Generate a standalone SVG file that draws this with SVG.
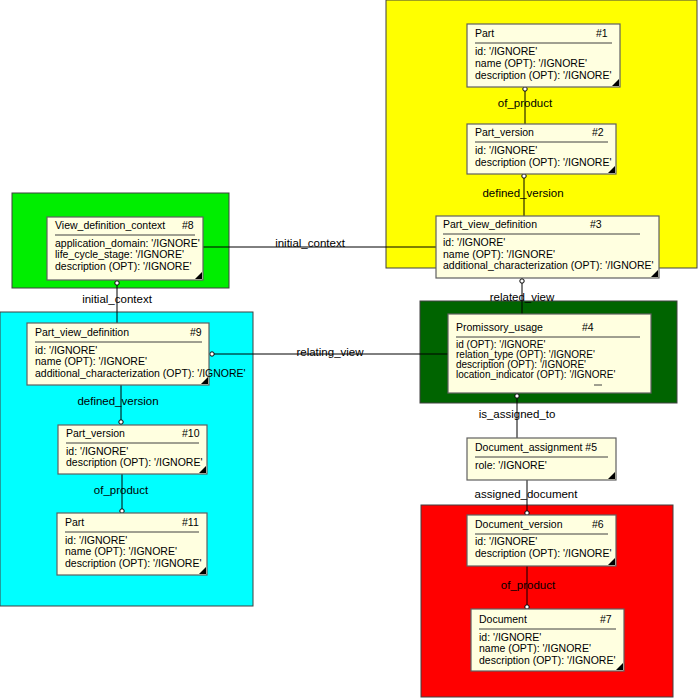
<svg xmlns="http://www.w3.org/2000/svg" width="698" height="698" viewBox="0 0 698 698">
<style>
text{font-family:"Liberation Sans",Arial,sans-serif;font-size:10.5px;fill:#000}
.n{fill:#ffffe0;stroke:#606060;stroke-width:1.2}
.r{stroke:#404040;stroke-width:1}
.l{stroke:#000;stroke-width:1;fill:none}
.hr{stroke:#404040;stroke-width:1}
.c{fill:#fff;stroke:#000;stroke-width:1}
.lbl{font-size:11.5px}
.s{font-size:10px}
</style>
<rect x="386" y="0" width="311" height="268" fill="#ffff00" class="r"/>
<rect x="12" y="193" width="217" height="95" fill="#00ee00" class="r"/>
<rect x="0" y="312" width="253" height="294" fill="#00ffff" class="r"/>
<rect x="420" y="301" width="257" height="102" fill="#006400" class="r"/>
<rect x="421" y="505" width="252" height="192" fill="#ff0000" class="r"/>
<g id="connectors">
<line class="l" x1="525" y1="87" x2="525" y2="124"/>
<line class="l" x1="524" y1="174" x2="524" y2="216"/>
<line class="l" x1="203" y1="247" x2="436" y2="247"/>
<line class="l" x1="522" y1="278" x2="522" y2="314"/>
<line class="l" x1="117" y1="280" x2="117" y2="323"/>
<line class="l" x1="212" y1="354" x2="448" y2="354"/>
<line class="l" x1="121" y1="385" x2="121" y2="425"/>
<line class="l" x1="122" y1="474" x2="122" y2="513"/>
<line class="l" x1="517" y1="393" x2="517" y2="438"/>
<line class="l" x1="527" y1="480" x2="527" y2="515"/>
<line class="l" x1="527" y1="566" x2="527" y2="609"/>
<circle class="c" cx="525" cy="89" r="2.2"/>
<circle class="c" cx="524" cy="176" r="2.2"/>
<circle class="c" cx="522" cy="281" r="2.2"/>
<circle class="c" cx="117" cy="283" r="2.2"/>
<circle class="c" cx="212" cy="354" r="2.2"/>
<circle class="c" cx="121" cy="422" r="2.2"/>
<circle class="c" cx="122" cy="511" r="2.2"/>
<circle class="c" cx="517" cy="396" r="2.2"/>
<circle class="c" cx="527" cy="513" r="2.2"/>
<circle class="c" cx="527" cy="607" r="2.2"/>
<text class="lbl" x="525" y="107" text-anchor="middle">of_product</text>
<text class="lbl" x="523" y="197" text-anchor="middle">defined_version</text>
<text class="lbl" x="310" y="247" text-anchor="middle">initial_context</text>
<text class="lbl" x="522" y="301" text-anchor="middle">related_view</text>
<text class="lbl" x="117" y="303" text-anchor="middle">initial_context</text>
<text class="lbl" x="330" y="356" text-anchor="middle">relating_view</text>
<text class="lbl" x="118" y="405" text-anchor="middle">defined_version</text>
<text class="lbl" x="121" y="494" text-anchor="middle">of_product</text>
<text class="lbl" x="517" y="418" text-anchor="middle">is_assigned_to</text>
<text class="lbl" x="526" y="498" text-anchor="middle">assigned_document</text>
<text class="lbl" x="528" y="589" text-anchor="middle">of_product</text>
</g>
<defs><path id="tri" d="M0 0 L-7 0 L0 -7 Z" fill="#000"/></defs>
<g id="n1"><rect class="n" x="467" y="24" width="153" height="63"/><text x="475" y="37">Part</text><text x="596" y="37">#1</text><line class="hr" x1="475" y1="43" x2="612" y2="43"/><text x="475" y="55">id: '/IGNORE'</text><text x="475" y="67">name (OPT): '/IGNORE'</text><text x="475" y="79">description (OPT): '/IGNORE'</text><use href="#tri" x="619" y="86"/></g>
<g id="n2"><rect class="n" x="467" y="124" width="149" height="50"/><text x="475" y="136">Part_version</text><text x="592" y="136">#2</text><line class="hr" x1="475" y1="142" x2="608" y2="142"/><text x="475" y="154">id: '/IGNORE'</text><text x="475" y="166">description (OPT): '/IGNORE'</text><use href="#tri" x="615" y="173"/></g>
<g id="n3"><rect class="n" x="436" y="216" width="223" height="62"/><text x="443" y="228">Part_view_definition</text><text x="590" y="228">#3</text><line class="hr" x1="443" y1="234" x2="640" y2="234"/><text x="443" y="246">id: '/IGNORE'</text><text x="443" y="258">name (OPT): '/IGNORE'</text><text x="443" y="269">additional_characterization (OPT): '/IGNORE'</text><use href="#tri" x="658" y="277"/></g>
<g id="n8"><rect class="n" x="47" y="217" width="156" height="63"/><text x="55" y="229">View_definition_context</text><text x="182" y="229">#8</text><line class="hr" x1="55" y1="235" x2="195" y2="235"/><text x="55" y="247">application_domain: '/IGNORE'</text><text x="55" y="258">life_cycle_stage: '/IGNORE'</text><text x="55" y="270">description (OPT): '/IGNORE'</text><use href="#tri" x="202" y="279"/></g>
<g id="n9"><rect class="n" x="27" y="323" width="182" height="62"/><text x="35" y="336">Part_view_definition</text><text x="190" y="336">#9</text><line class="hr" x1="35" y1="342" x2="202" y2="342"/><text x="35" y="354">id: '/IGNORE'</text><text x="35" y="365">name (OPT): '/IGNORE'</text><text x="35" y="377">additional_characterization (OPT): '/IGNORE'</text><use href="#tri" x="208" y="384"/></g>
<g id="n10"><rect class="n" x="58" y="425" width="149" height="49"/><text x="66" y="437">Part_version</text><text x="182" y="437">#10</text><line class="hr" x1="66" y1="443" x2="199" y2="443"/><text x="66" y="455">id: '/IGNORE'</text><text x="66" y="466">description (OPT): '/IGNORE'</text><use href="#tri" x="206" y="473"/></g>
<g id="n11"><rect class="n" x="57" y="513" width="150" height="62"/><text x="65" y="526">Part</text><text x="182" y="526">#11</text><line class="hr" x1="65" y1="532" x2="199" y2="532"/><text x="65" y="544">id: '/IGNORE'</text><text x="65" y="555">name (OPT): '/IGNORE'</text><text x="65" y="567">description (OPT): '/IGNORE'</text><use href="#tri" x="206" y="574"/></g>
<g id="n4"><rect class="n" x="448" y="314" width="203" height="79"/><text x="456" y="331">Promissory_usage</text><text x="582" y="331">#4</text><line class="hr" x1="456" y1="337" x2="640" y2="337"/><text class="s" x="456" y="348">id (OPT): '/IGNORE'</text><text class="s" x="456" y="358">relation_type (OPT): '/IGNORE'</text><text class="s" x="456" y="368">description (OPT): '/IGNORE'</text><text class="s" x="456" y="378">location_indicator (OPT): '/IGNORE'</text><line class="hr" x1="594" y1="385" x2="602" y2="385"/></g>
<g id="n5"><rect class="n" x="467" y="438" width="149" height="42"/><text x="475" y="451">Document_assignment #5</text><line class="hr" x1="475" y1="457" x2="608" y2="457"/><text x="475" y="469">role: '/IGNORE'</text><use href="#tri" x="615" y="479"/></g>
<g id="n6"><rect class="n" x="467" y="515" width="149" height="51"/><text x="475" y="528">Document_version</text><text x="592" y="528">#6</text><line class="hr" x1="475" y1="534" x2="608" y2="534"/><text x="475" y="545">id: '/IGNORE'</text><text x="475" y="557">description (OPT): '/IGNORE'</text><use href="#tri" x="615" y="565"/></g>
<g id="n7"><rect class="n" x="471" y="609" width="153" height="62"/><text x="479" y="623">Document</text><text x="600" y="623">#7</text><line class="hr" x1="479" y1="629" x2="616" y2="629"/><text x="479" y="641">id: '/IGNORE'</text><text x="479" y="652">name (OPT): '/IGNORE'</text><text x="479" y="664">description (OPT): '/IGNORE'</text><use href="#tri" x="623" y="670"/></g>
</svg>
